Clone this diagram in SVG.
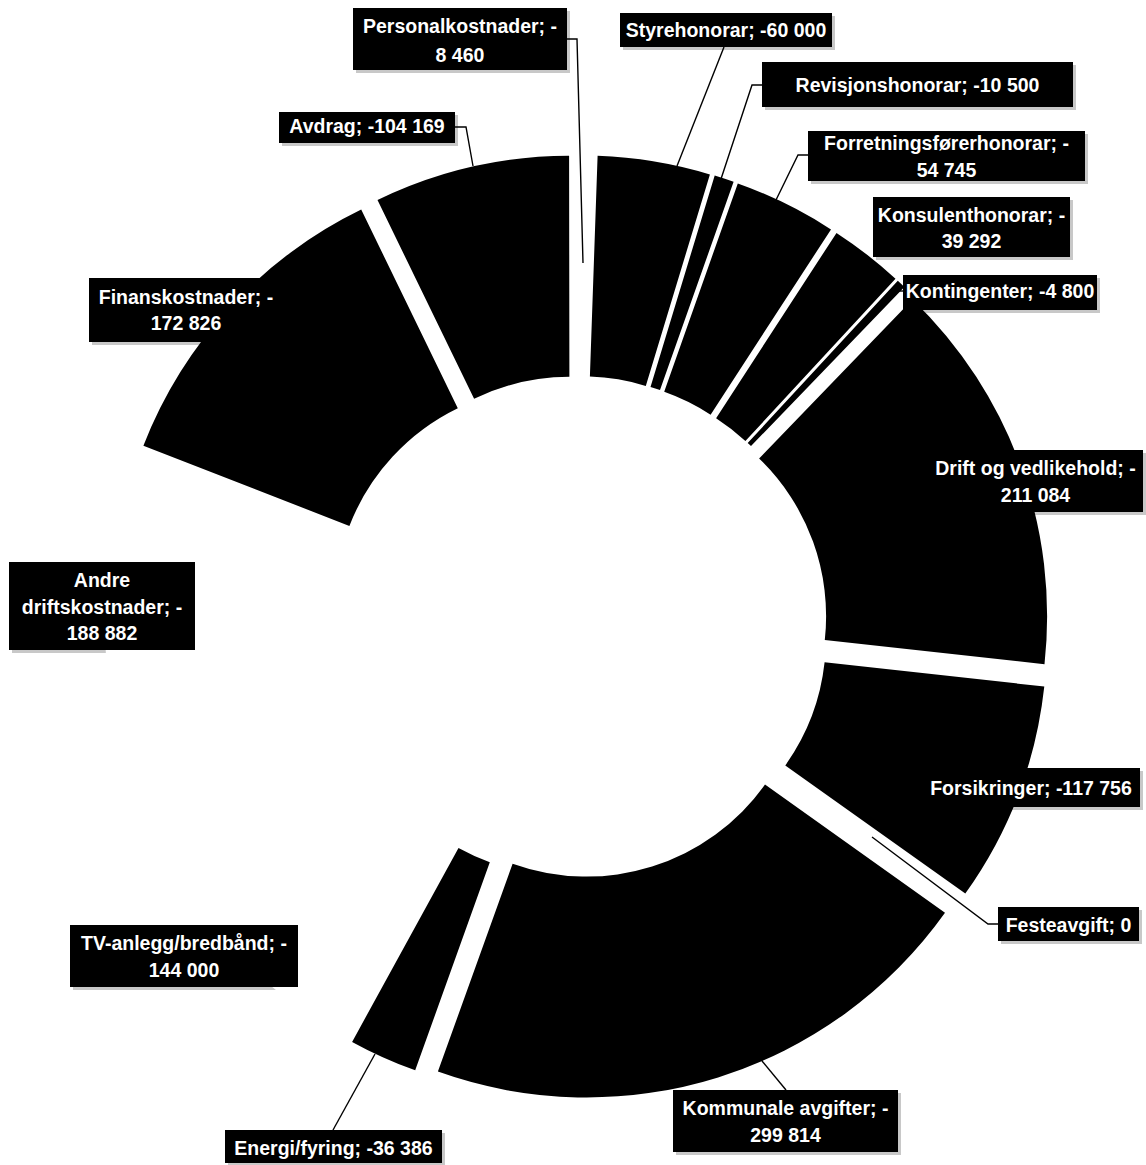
<svg xmlns="http://www.w3.org/2000/svg" width="1146" height="1165" viewBox="0 0 1146 1165">
<style>
.seg{fill:#000}
.light{fill:#fff}
.lead{fill:none;stroke:#000;stroke-width:1.4}
.box{fill:#000}
.sh{fill:#c8c8c8}
.lbl{font-family:"Liberation Sans",Arial,sans-serif;font-weight:bold;font-size:19.5px;fill:#fff;text-anchor:middle}
</style>
<rect width="1146" height="1165" fill="#fff"/>
<g id="label-shadows">
<rect class="sh" x="356" y="11" width="214" height="62"/>
<rect class="sh" x="282" y="115" width="176" height="31"/>
<rect class="sh" x="623" y="16" width="212" height="34"/>
<rect class="sh" x="765" y="65" width="311" height="45"/>
<rect class="sh" x="811" y="134" width="277" height="50"/>
<rect class="sh" x="876" y="200" width="197" height="60"/>
<rect class="sh" x="906" y="278" width="194" height="35"/>
<rect class="sh" x="931" y="453" width="215" height="62"/>
<rect class="sh" x="925" y="771" width="218" height="39"/>
<rect class="sh" x="1001" y="910" width="141" height="34"/>
<rect class="sh" x="676" y="1093" width="225" height="62"/>
<rect class="sh" x="228" y="1133" width="217" height="33"/>
<rect class="sh" x="73" y="928" width="228" height="62"/>
<rect class="sh" x="12" y="565" width="186" height="88"/>
<rect class="sh" x="92" y="281" width="194" height="64"/>
</g>
<g id="slices">
<path id="s-styre" class="seg" d="M597.6,155.7 A440,440 0 0 1 709.9,174.4 L645.8,385.9 A219,219 0 0 0 589.9,376.6 Z"/>
<path id="s-revisjon" class="seg" d="M714.7,175.5 A440,440 0 0 1 733.6,181.8 L660.0,390.1 A219,219 0 0 0 650.5,387.0 Z"/>
<path id="s-forretning" class="seg" d="M737.8,183.5 A440,440 0 0 1 831.0,229.4 L710.6,414.7 A219,219 0 0 0 664.2,391.8 Z"/>
<path id="s-konsulent" class="seg" d="M836.5,232.9 A440,440 0 0 1 895.5,278.8 L745.4,441.0 A219,219 0 0 0 716.1,418.2 Z"/>
<path id="s-kontingenter" class="seg" d="M897.8,280.8 A440,440 0 0 1 904.4,287.0 L751.0,446.1 A219,219 0 0 0 747.7,443.0 Z"/>
<path id="s-drift" class="seg" d="M912.5,299.4 A440,440 0 0 1 1044.5,664.2 L824.8,640.0 A219,219 0 0 0 759.1,458.5 Z"/>
<path id="s-forsikringer" class="seg" d="M1044.3,686.5 A440,440 0 0 1 965.3,893.6 L785.3,765.4 A219,219 0 0 0 824.6,662.3 Z"/>
<path id="s-kommunale" class="seg" d="M945.0,912.8 A440,440 0 0 1 437.9,1071.6 L512.6,863.7 A219,219 0 0 0 765.0,784.6 Z"/>
<path id="s-energi" class="seg" d="M415.2,1070.3 A440,440 0 0 1 352.1,1041.9 L458.5,848.1 A219,219 0 0 0 489.8,862.3 Z"/>
<path id="s-tv" class="light" d="M342.0,1034.7 A440,440 0 0 1 156.8,838.7 L356.2,743.4 A219,219 0 0 0 448.3,841.0 Z"/>
<path id="s-andre" class="light" d="M148.0,817.9 A440,440 0 0 1 135.0,468.6 L340.9,548.8 A219,219 0 0 0 347.4,722.6 Z"/>
<path id="s-finans" class="seg" d="M143.4,445.8 A440,440 0 0 1 361.2,209.5 L457.8,408.3 A219,219 0 0 0 349.4,525.9 Z"/>
<path id="s-avdrag" class="seg" d="M377.5,200.0 A440,440 0 0 1 569.1,155.8 L569.4,376.8 A219,219 0 0 0 474.1,398.8 Z"/>
<path id="s-personal" class="light" d="M576.8,155.0 A440,440 0 0 1 592.9,155.3 L585.2,376.1 A219,219 0 0 0 577.2,376.0 Z"/>
</g>
<g id="connectors">
<polyline class="lead" points="567,39 577,39 583,263"/>
<polyline class="lead" points="455,127 466,127 473,166"/>
<polyline class="lead" points="724,47 677,166"/>
<polyline class="lead" points="762,85 752,85 721,179"/>
<polyline class="lead" points="808,155 798,155 776,200"/>
<polyline class="lead" points="903,291 893,291"/>
<polyline class="lead" points="998,924 988,924 872,837"/>
<polyline class="lead" points="786,1090 762,1061"/>
<polyline class="lead" points="333,1130 375,1054"/>
</g>
<g id="l-personal"><rect class="box" x="353" y="8" width="214" height="62"/><text class="lbl" x="460" y="33">Personalkostnader; -</text><text class="lbl" x="460" y="62">8 460</text></g>
<g id="l-avdrag"><rect class="box" x="279" y="112" width="176" height="31"/><text class="lbl" x="367" y="133">Avdrag; -104 169</text></g>
<g id="l-styre"><rect class="box" x="620" y="13" width="212" height="34"/><text class="lbl" x="726" y="37">Styrehonorar; -60 000</text></g>
<g id="l-revisjon"><rect class="box" x="762" y="62" width="311" height="45"/><text class="lbl" x="917.5" y="92">Revisjonshonorar; -10 500</text></g>
<g id="l-forretning"><rect class="box" x="808" y="131" width="277" height="50"/><text class="lbl" x="946.5" y="150">Forretningsførerhonorar; -</text><text class="lbl" x="946.5" y="177">54 745</text></g>
<g id="l-konsulent"><rect class="box" x="873" y="197" width="197" height="60"/><text class="lbl" x="971.5" y="222">Konsulenthonorar; -</text><text class="lbl" x="971.5" y="248">39 292</text></g>
<g id="l-kontingenter"><rect class="box" x="903" y="275" width="194" height="35"/><text class="lbl" x="1000" y="298">Kontingenter; -4 800</text></g>
<g id="l-drift"><rect class="box" x="928" y="450" width="215" height="62"/><text class="lbl" x="1035.5" y="475">Drift og vedlikehold; -</text><text class="lbl" x="1035.5" y="502">211 084</text></g>
<g id="l-forsikringer"><rect class="box" x="922" y="768" width="218" height="39"/><text class="lbl" x="1031" y="795">Forsikringer; -117 756</text></g>
<g id="l-feste"><rect class="box" x="998" y="907" width="141" height="34"/><text class="lbl" x="1068.5" y="932">Festeavgift; 0</text></g>
<g id="l-kommunale"><rect class="box" x="673" y="1090" width="225" height="62"/><text class="lbl" x="785.5" y="1115">Kommunale avgifter; -</text><text class="lbl" x="785.5" y="1142">299 814</text></g>
<g id="l-energi"><rect class="box" x="225" y="1130" width="217" height="33"/><text class="lbl" x="333.5" y="1155">Energi/fyring; -36 386</text></g>
<g id="l-tv"><rect class="box" x="70" y="925" width="228" height="62"/><text class="lbl" x="184" y="950">TV-anlegg/bredbånd; -</text><text class="lbl" x="184" y="977">144 000</text></g>
<g id="l-andre"><rect class="box" x="9" y="562" width="186" height="88"/><text class="lbl" x="102" y="587">Andre</text><text class="lbl" x="102" y="614">driftskostnader; -</text><text class="lbl" x="102" y="640">188 882</text></g>
<g id="l-finans"><rect class="box" x="89" y="278" width="194" height="64"/><text class="lbl" x="186" y="304">Finanskostnader; -</text><text class="lbl" x="186" y="330">172 826</text></g>
</svg>
